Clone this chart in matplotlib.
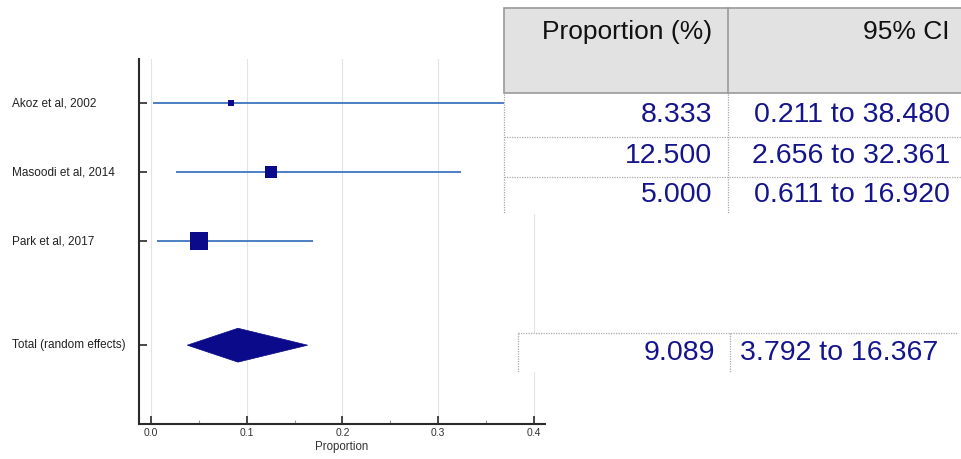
import matplotlib
matplotlib.use("Agg")
import matplotlib.pyplot as plt
from matplotlib.patches import Rectangle, Polygon
from matplotlib.ticker import MultipleLocator
from matplotlib.transforms import blended_transform_factory

plt.rcParams['font.family'] = ['Liberation Sans', 'DejaVu Sans']

# Study-level data (proportions as fractions)
studies = ["Akoz et al, 2002", "Masoodi et al, 2014", "Park et al, 2017"]
prop = [0.08333, 0.12500, 0.05000]
ci_low = [0.00211, 0.02656, 0.00611]
ci_high = [0.38480, 0.32361, 0.16920]
marker_px = [7, 13, 18]          # study weight squares

total_label = "Total (random effects)"
total_prop = 0.09089
total_low = 0.03792
total_high = 0.16367

x_ticks = [0.0, 0.1, 0.2, 0.3, 0.4]
x_ticklabels = ["0.0", "0.1", "0.2", "0.3", "0.4"]

# Table texts
col_headers = ["Proportion (%)", "95% CI"]
prop_txt = ["8.333", "12.500", "5.000"]
ci_txt = ["0.211 to 38.480", "2.656 to 32.361", "0.611 to 16.920"]
total_prop_txt = "9.089"
total_ci_txt = "3.792 to 16.367"

W, H = 962, 459
fig = plt.figure(figsize=(W / 100, H / 100), dpi=100)
fig.patch.set_facecolor("white")

def fx(px):
    return px / W

def fy(py):
    return 1 - py / H

# ---- forest plot axes ----
ax_l, ax_r, ax_t, ax_b = 139, 545, 59, 424
ax = fig.add_axes([fx(ax_l), fy(ax_b), fx(ax_r - ax_l), (ax_b - ax_t) / H])
ax.set_zorder(1)
ax.set_xlim(-0.0125, 0.4117)
ypos = [0, 1, 2]
ytot = 3.5
ax.set_ylim(4.64, -0.64)

line_col = "#3f74bf"
mark_col = "#0a0a8a"
for y, p, lo, hi, ms in zip(ypos, prop, ci_low, ci_high, marker_px):
    ax.plot([lo, hi], [y, y], color=line_col, lw=1.3, zorder=3, solid_capstyle="butt")
    ax.plot([p], [y], marker="s", color=mark_col, markersize=ms / 1.389,
            markeredgewidth=0, zorder=4)

half_h = 0.245
ax.add_patch(Polygon([[total_low, ytot], [total_prop, ytot - half_h],
                      [total_high, ytot], [total_prop, ytot + half_h]],
                     closed=True, facecolor=mark_col, edgecolor=mark_col, lw=0.5, zorder=4))

ax.set_xticks(x_ticks)
ax.set_xticklabels(x_ticklabels)
ax.xaxis.set_minor_locator(MultipleLocator(0.05))
ax.grid(axis="x", which="major", color="#e4e4e4", lw=0.8, zorder=0)
ax.set_yticks(ypos + [ytot])
ax.set_yticklabels([])
for s in ["top", "right"]:
    ax.spines[s].set_visible(False)
for s in ["left", "bottom"]:
    ax.spines[s].set_color("#2a2a2a")
    ax.spines[s].set_linewidth(1.5)
ax.tick_params(axis="y", direction="in", length=6, width=1.2, color="#2a2a2a")
ax.tick_params(axis="x", which="major", direction="in", length=6, width=1.2,
               color="#2a2a2a", labelsize=7.5, labelcolor="#333333", pad=3)
ax.tick_params(axis="x", which="minor", direction="in", length=3, width=0.8, color="#999999")
ax.set_xlabel("Proportion", fontsize=8.3, color="#333333", labelpad=2)

label_tf = blended_transform_factory(fig.transFigure, ax.transData)
for y, name in zip(ypos + [ytot], studies + [total_label]):
    ax.text(fx(12), y, name, transform=label_tf,
            ha="left", va="center", fontsize=8.5, color="#222222")

# ---- results table overlay (pixel coordinates) ----
tab = fig.add_axes([0, 0, 1, 1])
tab.set_zorder(2)
tab.patch.set_alpha(0)
tab.set_xlim(0, W)
tab.set_ylim(H, 0)
tab.axis("off")

txt_col = "#14148c"
dot = dict(color="#a8a8a8", lw=0.9, ls=(0, (1, 1)))

# header block
tab.add_patch(Rectangle((504, 8), W - 504 + 5, 85, facecolor="#e2e2e2",
                        edgecolor="#9a9a9a", lw=1.2))
tab.plot([728, 728], [8, 93], color="#9a9a9a", lw=1.2)
tab.text(712, 32, col_headers[0], ha="right", va="center", fontsize=19, color="#111111")
tab.text(950, 32, col_headers[1], ha="right", va="center", fontsize=19, color="#111111")

# study rows
tab.add_patch(Rectangle((504, 94), W - 504, 120, facecolor="white", edgecolor="none"))
row_top = [94, 137, 177]
row_mid = [115, 156, 195]
tab.plot([504, 504], [94, 214], **dot)
tab.plot([728, 728], [94, 214], **dot)
for yb in row_top[1:]:
    tab.plot([504, W], [yb, yb], **dot)
for ym, a, b in zip(row_mid, prop_txt, ci_txt):
    tab.text(712, ym, a, ha="right", va="center", fontsize=20.5, color=txt_col)
    tab.text(950, ym, b, ha="right", va="center", fontsize=20.5, color=txt_col)

# pooled row
tab.add_patch(Rectangle((518, 333), 440, 39, facecolor="white", edgecolor="none"))
tab.plot([518, 958], [333, 333], **dot)
tab.plot([518, 518], [333, 372], **dot)
tab.plot([730, 730], [333, 372], **dot)
tab.text(715, 353, total_prop_txt, ha="right", va="center", fontsize=20.5, color=txt_col)
tab.text(938, 353, total_ci_txt, ha="right", va="center", fontsize=20.5, color=txt_col)

fig.savefig("out.png", dpi=100)
